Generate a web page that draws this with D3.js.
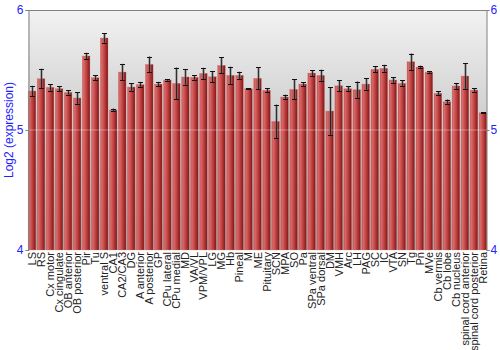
<!DOCTYPE html>
<html>
<head>
<meta charset="utf-8">
<script src="https://d3js.org/d3.v7.min.js"></script>
<style>
body { margin: 0; background: #fff; }
svg { display: block; font-family: "Liberation Sans", Arial, sans-serif; }
</style>
</head>
<body>
<svg id="chart" width="500" height="350"></svg>
<script>
// data
var regions = ["LS", "RS", "Cx motor", "Cx cingulate", "OB anterior", "OB posterior", "Pir", "Tu",
	"ventral S", "CA1", "CA2/CA3", "DG", "A anterior", "A posterior", "GP", "CPu lateral",
	"CPu medial", "MD", "VA/VL", "VPM/VPL", "LG", "MG", "Hb", "Pineal", "M", "ME", "Pituitary",
	"SCN", "MPA", "SO", "Pa", "SPa ventral", "SPa dorsal", "DM", "VMH", "Arc", "LH", "PAG",
	"SC", "IC", "VTA", "SN", "Tg", "Pn", "MVe", "Cb vermis", "Cb lobe", "Cb nucleus",
	"spinal cord anterior", "spinal cord posterior", "Retina"];

var expression = [5.325, 5.428, 5.356, 5.344, 5.314, 5.267, 5.617, 5.436,
	5.767, 5.167, 5.483, 5.358, 5.378, 5.547, 5.383, 5.417,
	5.389, 5.442, 5.439, 5.472, 5.444, 5.539, 5.456, 5.456, 5.344, 5.431, 5.331,
	5.072, 5.275, 5.339, 5.383, 5.475, 5.456, 5.158, 5.369, 5.344, 5.336, 5.383,
	5.506, 5.514, 5.417, 5.389, 5.569, 5.525, 5.483, 5.306, 5.236, 5.367,
	5.450, 5.333, 5.144];

var errors = [0.043, 0.082, 0.027, 0.021, 0.019, 0.049, 0.026, 0.022,
	0.039, 0.011, 0.068, 0.030, 0.023, 0.065, 0.018, 0.006,
	0.131, 0.064, 0.019, 0.046, 0.048, 0.067, 0.071, 0.029, 0.005, 0.092, 0.017,
	0.139, 0.019, 0.083, 0.015, 0.024, 0.046, 0.200, 0.044, 0.021, 0.068, 0.050,
	0.026, 0.029, 0.022, 0.025, 0.068, 0.011, 0.007, 0.015, 0.018, 0.025,
	0.106, 0.014, 0.004];

var yTicks = [4, 5, 6];

var svg = d3.select("#chart");
var plotLeft = 28, plotRight = 487, plotTop = 10, plotBottom = 250;

var rows = regions.map(function(r, i) {
	return { name: r, value: expression[i], err: errors[i] };
});

var x = d3.scaleBand()
	.domain(regions)
	.range([plotLeft, plotRight])
	.paddingInner(0.15)
	.paddingOuter(0.02);

var y = d3.scaleLinear()
	.domain([4, 6])
	.range([plotBottom, plotTop]);

// gradients
var defs = svg.append("defs");
var bg = defs.append("linearGradient")
	.attr("id", "bg")
	.attr("x1", 0).attr("y1", 0).attr("x2", 0).attr("y2", 1);
bg.append("stop").attr("offset", "0%").attr("stop-color", "#f2f2f2");
bg.append("stop").attr("offset", "100%").attr("stop-color", "#a4a4a4");

var barGrad = defs.append("linearGradient")
	.attr("id", "bar")
	.attr("x1", 0).attr("y1", 0).attr("x2", 1).attr("y2", 0);
barGrad.append("stop").attr("offset", "0%").attr("stop-color", "#c05050");
barGrad.append("stop").attr("offset", "18%").attr("stop-color", "#d86a6a");
barGrad.append("stop").attr("offset", "55%").attr("stop-color", "#c04040");
barGrad.append("stop").attr("offset", "100%").attr("stop-color", "#7e1616");

// plot background
svg.append("rect")
	.attr("x", plotLeft)
	.attr("y", plotTop)
	.attr("width", plotRight - plotLeft)
	.attr("height", plotBottom - plotTop)
	.attr("fill", "url(#bg)");

// bars
svg.append("g")
	.selectAll("rect")
	.data(rows)
	.enter()
	.append("rect")
	.attr("x", function(d) { return x(d.name); })
	.attr("y", function(d) { return y(d.value); })
	.attr("width", x.bandwidth())
	.attr("height", function(d) { return y(4) - y(d.value); })
	.attr("fill", "url(#bar)")
	.attr("stroke", "#d87a7a")
	.attr("stroke-opacity", 0.6)
	.attr("stroke-width", 0.5);

// grid line at 5
svg.append("line")
	.attr("x1", plotLeft).attr("x2", plotRight)
	.attr("y1", y(5)).attr("y2", y(5))
	.attr("stroke", "#ffffff")
	.attr("stroke-opacity", 0.35);

// error bars
var eb = svg.append("g")
	.selectAll("g")
	.data(rows)
	.enter()
	.append("g")
	.attr("transform", function(d) {
		return "translate(" + (Math.round(x(d.name) + x.bandwidth() / 2) + 0.5) + ",0)";
	});

eb.append("line")
	.attr("y1", function(d) { return y(d.value + d.err); })
	.attr("y2", function(d) { return y(d.value - d.err); })
	.attr("stroke", "#777")
	.attr("stroke-opacity", 0.5)
	.attr("stroke-width", 3);
eb.append("line")
	.attr("y1", function(d) { return y(d.value + d.err); })
	.attr("y2", function(d) { return y(d.value - d.err); })
	.attr("stroke", "#111")
	.attr("stroke-opacity", 0.8)
	.attr("stroke-width", 1);
eb.selectAll(".cap")
	.data(function(d) { return [d.value + d.err, d.value - d.err]; })
	.enter()
	.append("line")
	.attr("x1", -2.5).attr("x2", 2.5)
	.attr("y1", function(v) { return Math.round(y(v)) + 0.5; })
	.attr("y2", function(v) { return Math.round(y(v)) + 0.5; })
	.attr("stroke", "#111")
	.attr("stroke-width", 1);

// frame
svg.append("line")
	.attr("x1", plotLeft).attr("x2", plotRight)
	.attr("y1", plotTop + 0.5).attr("y2", plotTop + 0.5)
	.attr("stroke", "#808080");

// axes
var yLeft = svg.append("g")
	.attr("transform", "translate(" + (plotLeft + 0.5) + ",0)")
	.call(d3.axisLeft(y).tickValues(yTicks).tickFormat(d3.format("d")).tickSize(3).tickPadding(2));
var yRight = svg.append("g")
	.attr("transform", "translate(" + (plotRight - 0.5) + ",0)")
	.call(d3.axisRight(y).tickValues(yTicks).tickFormat(d3.format("d")).tickSize(3).tickPadding(1));

[yLeft, yRight].forEach(function(a) {
	a.select(".domain").attr("stroke", "#808080");
	a.selectAll(".tick line").attr("stroke", "#808080");
	a.selectAll(".tick text")
		.attr("fill", "#2323ff")
		.style("font-size", "12px")
		.style("font-family", "'Liberation Sans', Arial, sans-serif");
});

// x labels
svg.append("g")
	.selectAll("text")
	.data(regions)
	.enter()
	.append("text")
	.attr("transform", function(d) {
		return "translate(" + (x(d) + x.bandwidth() / 2 + 4) + "," + (plotBottom + 2) + ") rotate(-90)";
	})
	.attr("text-anchor", "end")
	.attr("fill", "#222")
	.style("font-size", "11px")
	.text(function(d) { return d; });

// y title
svg.append("text")
	.attr("transform", "translate(12.5," + ((plotTop + plotBottom) / 2) + ") rotate(-90)")
	.attr("text-anchor", "middle")
	.attr("fill", "#2323ff")
	.style("font-size", "12px")
	.text("Log2 (expression)");
</script>
</body>
</html>
